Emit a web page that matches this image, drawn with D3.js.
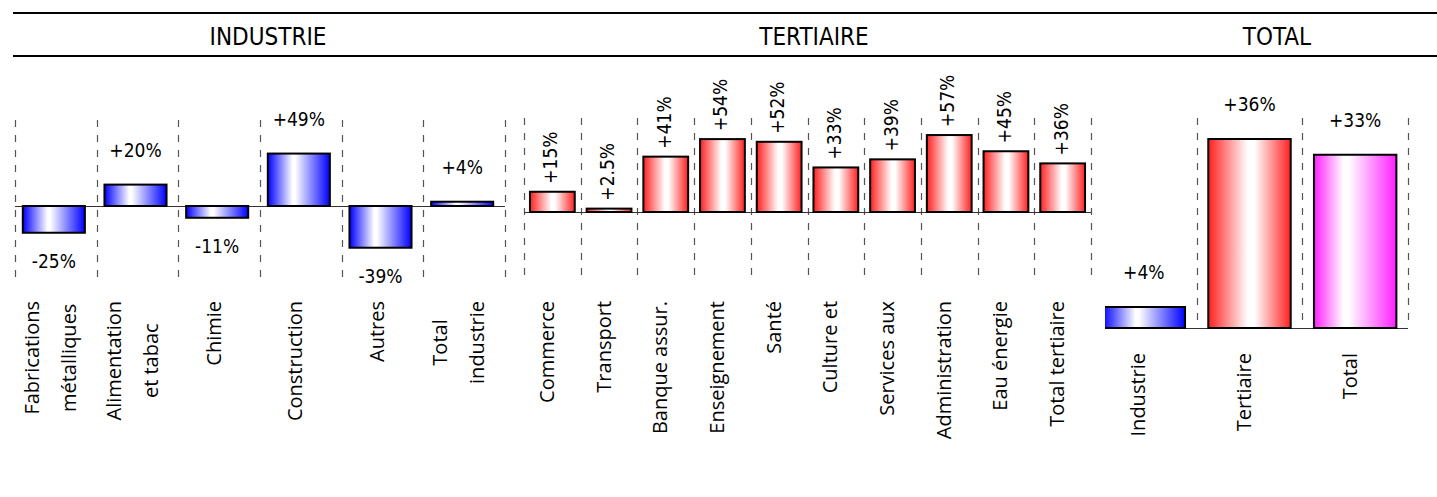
<!DOCTYPE html>
<html>
<head>
<meta charset="utf-8">
<script src="https://cdn.jsdelivr.net/npm/d3@7"></script>
<style>
  body { margin: 0; background: #fff; }
  svg { display: block; }
</style>
</head>
<body>
<div id="chart"></div>
<script>
// Chart data
const sectionTitles = ["INDUSTRIE", "TERTIAIRE", "TOTAL"];

const industrieCats = ["Fabrications\nmétalliques", "Alimentation\net tabac", "Chimie", "Construction", "Autres", "Total\nindustrie"];
const industrieValues = [-25, 20, -11, 49, -39, 4];

const tertiaireCats = ["Commerce", "Transport", "Banque assur.", "Enseignement", "Santé", "Culture et", "Services aux", "Administration", "Eau énergie", "Total tertiaire"];
const tertiaireValues = [15, 2.5, 41, 54, 52, 33, 39, 57, 45, 36];

const totalCats = ["Industrie", "Tertiaire", "Total"];
const totalValues = [4, 36, 33];

const width = 1437;
const height = 497;

const svg = d3.select("#chart").append("svg")
    .attr("width", width)
    .attr("height", height);

const defs = svg.append("defs");

// horizontal gradients like the original office chart fills
function gradient(id, color, mid) {
    const g = defs.append("linearGradient").attr("id", id)
        .attr("x1", "0%").attr("x2", "100%").attr("y1", "0%").attr("y2", "0%");
    g.append("stop").attr("offset", "0%").attr("stop-color", color);
    g.append("stop").attr("offset", mid[0]).attr("stop-color", "#fff");
    g.append("stop").attr("offset", mid[1]).attr("stop-color", "#fff");
    g.append("stop").attr("offset", "100%").attr("stop-color", color);
}
gradient("gBlue", "#0000ff", ["40%", "44%"]);
gradient("gRed", "#ff2020", ["48%", "56%"]);
gradient("gMagenta", "#ff20ff", ["36%", "42%"]);

defs.append("clipPath").attr("id", "clipTotal")
    .append("rect").attr("x", 1105).attr("y", 0).attr("width", width - 1105).attr("height", height);

const valueFont = "'DejaVu Sans Condensed', 'DejaVu Sans', sans-serif";
const labelFont = "'Open Sans', sans-serif";

const fmt = v => (v > 0 ? "+" : "") + v + "%";

// header band
svg.append("line").attr("x1", 13).attr("x2", width).attr("y1", 13).attr("y2", 13)
    .attr("stroke", "#000").attr("stroke-width", 2);
svg.append("line").attr("x1", 13).attr("x2", width).attr("y1", 56).attr("y2", 56)
    .attr("stroke", "#000").attr("stroke-width", 2);

const panels = [
    { cats: industrieCats, values: industrieValues, range: [15, 505], zero: 206, k: 1.07,
      grid: [120, 282], fill: () => "url(#gBlue)", rotateValues: false, barRatio: 0.76, shift: -2,
      labelTop: 301, lineGap: 37, titleX: 268 },
    { cats: tertiaireCats, values: tertiaireValues, range: [524, 1091], zero: 212, k: 1.35,
      grid: [118, 278], fill: () => "url(#gRed)", rotateValues: true, barRatio: 0.79, shift: 0,
      labelTop: 301, lineGap: 37, titleX: 814 },
    { cats: totalCats, values: totalValues, range: [1091, 1408], zero: 328, k: 5.25,
      grid: [118, 328], fill: (d, i) => ["url(#gBlue)", "url(#gRed)", "url(#gMagenta)"][i], rotateValues: false,
      barRatio: 0.78, shift: 0, labelTop: 353, lineGap: 37, titleX: 1277, clip: "url(#clipTotal)" }
];

panels.forEach((p, pi) => {
    svg.append("text")
        .attr("x", p.titleX).attr("y", 45)
        .attr("text-anchor", "middle")
        .attr("font-family", valueFont)
        .attr("font-size", 24)
        .text(sectionTitles[pi]);

    const x = d3.scaleBand().domain(d3.range(p.cats.length)).range(p.range).padding(0);
    const y = d3.scaleLinear().domain([0, 100]).range([p.zero, p.zero - 100 * p.k]);
    const bw = x.bandwidth();
    const barW = bw * p.barRatio;
    const barX = i => x(i) + (bw - barW) / 2 + p.shift;

    const g = svg.append("g");
    const plot = g.append("g");
    if (p.clip) plot.attr("clip-path", p.clip);

    // dashed separators between categories
    const edges = d3.range(p.cats.length).map(i => x(i)).concat([p.range[1]]);
    plot.selectAll("line.grid")
        .data(edges)
        .join("line")
        .attr("class", "grid")
        .attr("x1", d => Math.round(d) + 0.5).attr("x2", d => Math.round(d) + 0.5)
        .attr("y1", p.grid[0]).attr("y2", p.grid[1])
        .attr("stroke", "#555")
        .attr("stroke-width", 1.2)
        .attr("stroke-dasharray", "7,8");

    // zero line
    plot.append("line")
        .attr("x1", p.range[0]).attr("x2", p.range[1])
        .attr("y1", p.zero + 0.5).attr("y2", p.zero + 0.5)
        .attr("stroke", "#333").attr("stroke-width", 1);

    // bars
    plot.selectAll("rect.bar")
        .data(p.values)
        .join("rect")
        .attr("class", "bar")
        .attr("x", (d, i) => barX(i))
        .attr("y", d => Math.min(y(d), y(0)))
        .attr("width", barW)
        .attr("height", d => Math.abs(y(d) - y(0)))
        .attr("fill", p.fill)
        .attr("stroke", "#000")
        .attr("stroke-width", 2);

    // value labels
    if (p.rotateValues) {
        g.selectAll("text.val")
            .data(p.values)
            .join("text")
            .attr("class", "val")
            .attr("transform", (d, i) => `translate(${barX(i) + barW / 2},${y(d) - 8}) rotate(-90)`)
            .attr("dy", "0.26em")
            .attr("text-anchor", "start")
            .attr("font-family", valueFont)
            .attr("font-size", 19)
            .text(fmt);
    } else {
        g.selectAll("text.val")
            .data(p.values)
            .join("text")
            .attr("class", "val")
            .attr("x", (d, i) => barX(i) + barW / 2)
            .attr("y", d => d >= 0 ? y(d) - 34.5 : y(d) + 29)
            .attr("dy", "0.35em")
            .attr("text-anchor", "middle")
            .attr("font-family", valueFont)
            .attr("font-size", 19)
            .text(fmt);
    }

    // rotated category labels, lines centred on the longest one
    p.cats.forEach((c, i) => {
        const lines = c.split("\n");
        const t = g.append("text")
            .attr("text-anchor", "middle")
            .attr("font-family", labelFont)
            .attr("font-size", 20);
        lines.forEach((ln, li) => {
            t.append("tspan")
                .attr("x", 0)
                .attr("y", (li - (lines.length - 1) / 2) * p.lineGap + 1.5)
                .text(ln);
        });
        const maxLen = d3.max(t.selectAll("tspan").nodes(), n => n.getComputedTextLength());
        t.attr("transform", `translate(${x(i) + bw / 2},${p.labelTop + maxLen / 2}) rotate(-90)`);
    });
});
</script>
</body>
</html>
